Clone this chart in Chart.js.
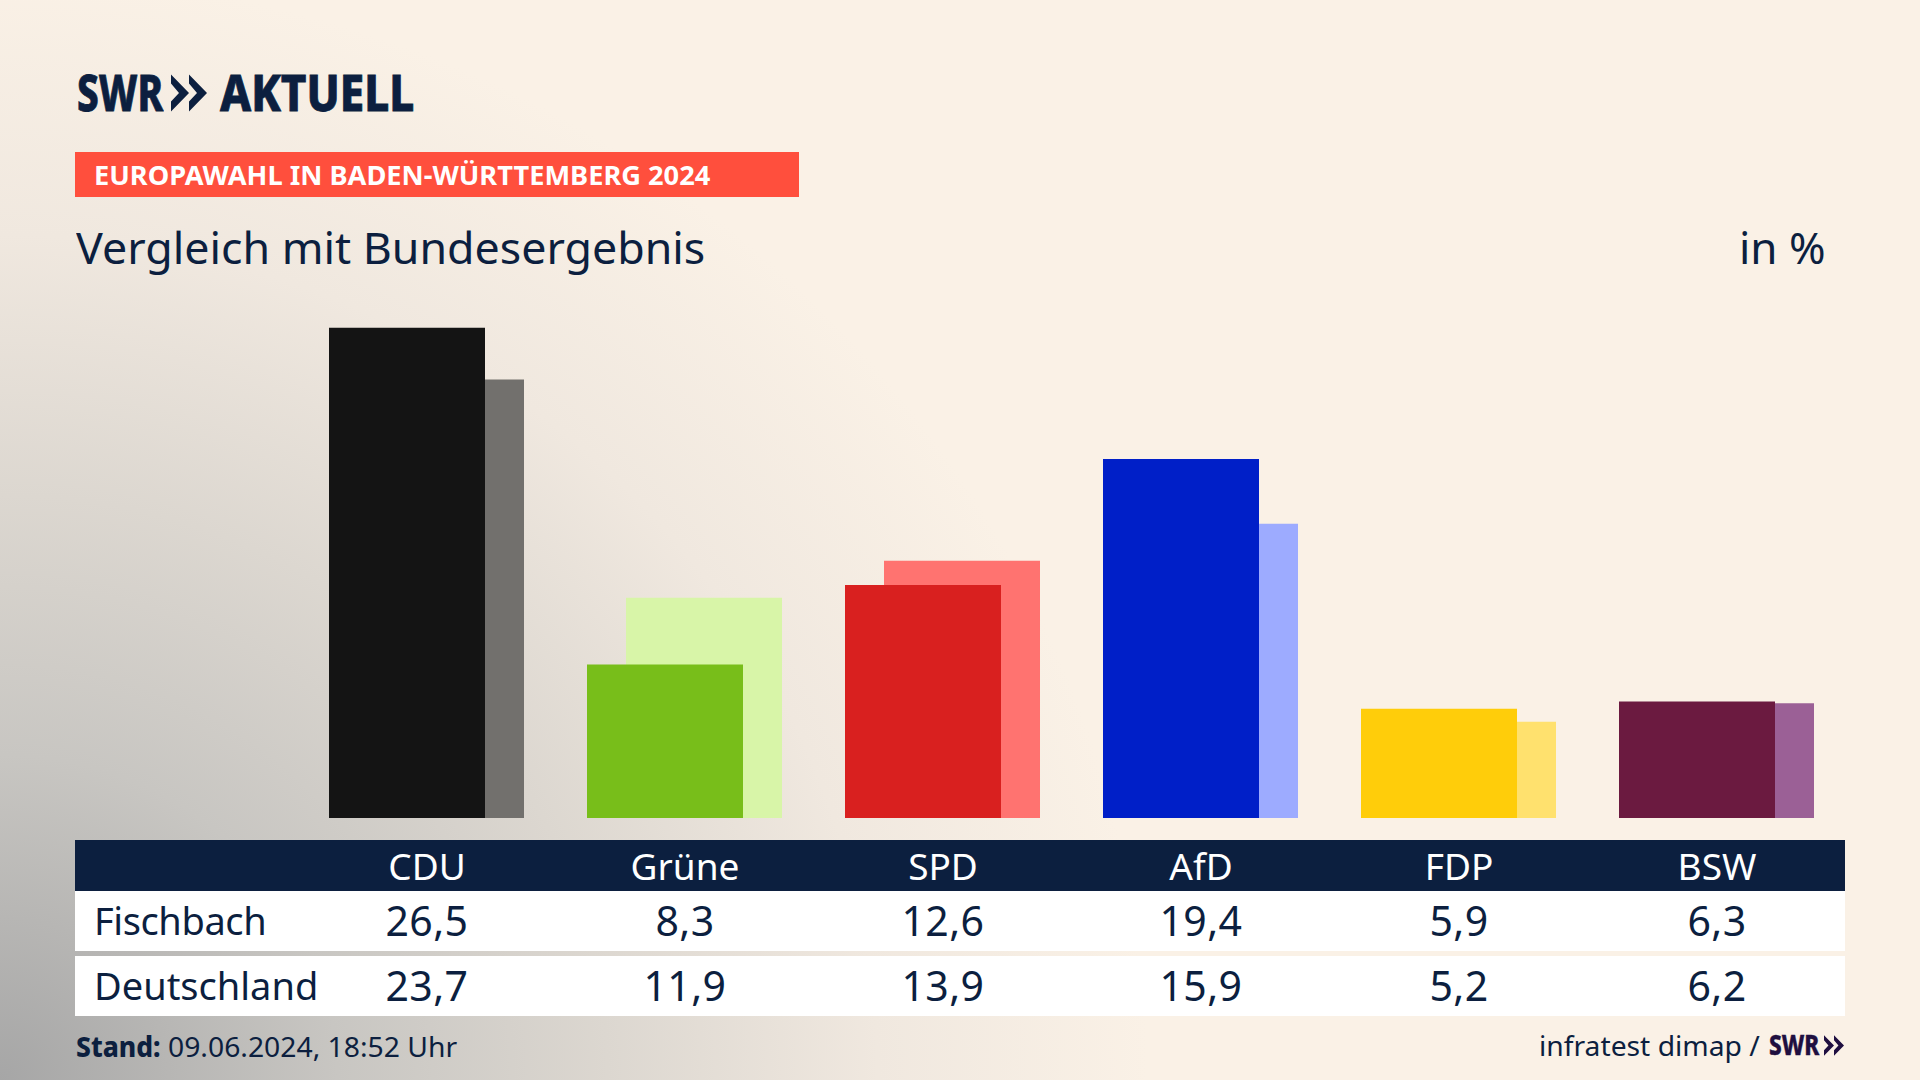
<!DOCTYPE html>
<html lang="de">
<head>
<meta charset="utf-8">
<title>Europawahl Vergleich</title>
<script src="https://cdn.jsdelivr.net/npm/chart.js@4"></script>
<style>
html, body { margin: 0; padding: 0; }
body {
    position: relative; width: 1920px; height: 1080px; overflow: hidden;
    font-family: "Noto Sans", sans-serif; color: #0c1f3f;
    background:
        radial-gradient(ellipse 1350px 1300px at 0px 1080px, #a6a6a6 0%, #c8c6c2 25%, #dcd7d0 45%, #f0e8df 65%, rgba(250,241,230,0) 85%),
        #faf1e6;
}
.t { position: absolute; white-space: nowrap; transform-origin: left center; line-height: 1; }
.heavy { font-weight: 800; -webkit-text-stroke: 0.8px currentColor; }
#chart { position: absolute; left: 297px; top: 263px; }
#banner { position: absolute; left: 75px; top: 152px; width: 724px; height: 45px; background: #ff4f3d; }
.row { position: absolute; left: 75px; width: 1770px; display: grid; grid-template-columns: 223px repeat(6, 258px); align-items: center; }
.row div { text-align: center; white-space: nowrap; font-size: 41px; letter-spacing: 0.4px; padding-bottom: 2px; }
.row div:first-child { text-align: left; padding-left: 19px; font-size: 38px; letter-spacing: 0; }
#row1 div:first-child { letter-spacing: -0.4px; }
#head { top: 840px; height: 51px; background: #0c1f3f; color: #fff; }
#head div { font-size: 37px; letter-spacing: 0; padding-bottom: 4px; }
#row1 { top: 891px; height: 60px; background: #fff; }
#row2 { top: 956px; height: 60px; background: #fff; }
svg { position: absolute; }
</style>
</head>
<body>
<div class="t heavy" data-w="86" style="left:77px;top:68px;font-size:49px">SWR</div>
<svg style="left:171px;top:74px" width="36" height="38" viewBox="0 0 36 37" fill="#0c1f3f">
    <polygon points="0,0 18,18.5 0,37 0,27 8,18.5 0,9"/>
    <polygon points="18,0 36,18.5 18,37 18,27 26,18.5 18,9"/>
</svg>
<div class="t heavy" data-w="194" style="left:220px;top:68px;font-size:49px">AKTUELL</div>

<div id="banner"></div>
<div class="t" data-w="616" style="left:94px;top:161px;font-size:27px;font-weight:700;color:#fff">EUROPAWAHL IN BADEN-WÜRTTEMBERG 2024</div>
<div class="t" data-w="629" style="left:76px;top:225px;font-size:44px">Vergleich mit Bundesergebnis</div>
<div class="t" data-w="87" style="left:1739px;top:225px;font-size:44px">in %</div>

<canvas id="chart" width="1549" height="555"></canvas>

<div class="row" id="head"></div>
<div class="row" id="row1"></div>
<div class="row" id="row2"></div>

<div class="t" data-w="85" style="left:76px;top:1032px;font-size:28px;font-weight:800">Stand:</div>
<div class="t" data-w="289" style="left:168px;top:1032px;font-size:28px">09.06.2024, 18:52 Uhr</div>
<div class="t" data-w="221" style="left:1539px;top:1031px;font-size:28px">infratest dimap /</div>
<div class="t heavy" data-w="50" style="left:1769px;top:1030px;font-size:28px;color:#1f0f40;-webkit-text-stroke-width:0.4px">SWR</div>
<svg style="left:1824px;top:1035px" width="20" height="21" viewBox="0 0 36 37" fill="#1f0f40">
    <polygon points="0,0 18,18.5 0,37 0,27 8,18.5 0,9"/>
    <polygon points="18,0 36,18.5 18,37 18,27 26,18.5 18,9"/>
</svg>

<script>
const parties = ["CDU", "Grüne", "SPD", "AfD", "FDP", "BSW"];
const fischbach = [26.5, 8.3, 12.6, 19.4, 5.9, 6.3];
const deutschland = [23.7, 11.9, 13.9, 15.9, 5.2, 6.2];
const mainColors = ["#141414", "#78be1a", "#d9201f", "#001fc8", "#ffcd0a", "#6b1a40"];
const lightColors = ["#72706d", "#d8f5a8", "#ff7370", "#9dabff", "#ffe16e", "#9b6096"];

const fmt = (v) => v.toFixed(1).replace(".", ",");

function fillRow(id, first, cells) {
    const row = document.getElementById(id);
    [first, ...cells].forEach((c) => {
        const d = document.createElement("div");
        d.textContent = c;
        row.append(d);
    });
}
fillRow("head", "", parties);
fillRow("row1", "Fischbach", fischbach.map(fmt));
fillRow("row2", "Deutschland", deutschland.map(fmt));

// squeeze single line texts to the measured width of the reference
document.querySelectorAll(".t").forEach((el) => {
    el.style.transform = `scaleX(${el.dataset.w / el.offsetWidth})`;
});

// bars overlap: barPercentage above 1 makes each wider than its 39px slot
new Chart(document.getElementById("chart"), {
    type: "bar",
    data: {
        labels: parties,
        datasets: [
            { label: "Fischbach", data: fischbach, backgroundColor: mainColors },
            { label: "Deutschland", data: deutschland, backgroundColor: lightColors },
        ],
    },
    options: {
        responsive: false,
        animation: false,
        devicePixelRatio: 1,
        layout: { padding: { left: 0.5, right: 0.5 } },
        categoryPercentage: 78 / 258,
        barPercentage: 4,
        plugins: { legend: { display: false }, tooltip: { enabled: false } },
        scales: {
            x: { display: false },
            y: { display: false, min: 0, max: 30 },
        },
    },
});
</script>
</body>
</html>
